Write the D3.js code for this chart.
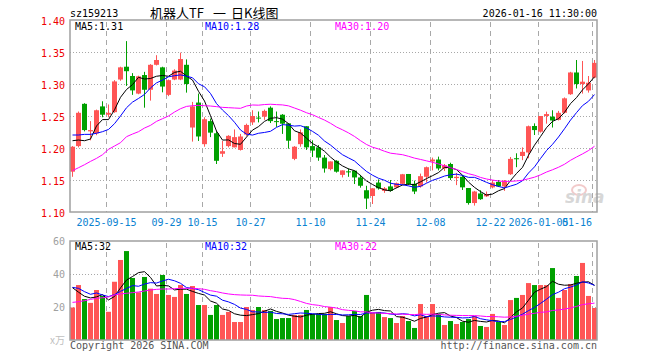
<!DOCTYPE html>
<html><head><meta charset="utf-8">
<script src="https://cdn.jsdelivr.net/npm/d3@7"></script>
<style>body{margin:0;background:#fff}svg{display:block}</style>
</head><body>
<svg id="c" width="660" height="360"></svg>
<script>
// ---------- DATA ----------
const dates = [
"2025-09-05","2025-09-08","2025-09-09","2025-09-10","2025-09-11","2025-09-12",
"2025-09-15","2025-09-16","2025-09-17","2025-09-18","2025-09-19",
"2025-09-22","2025-09-23","2025-09-24","2025-09-25","2025-09-26",
"2025-09-29","2025-09-30","2025-10-09","2025-10-10",
"2025-10-13","2025-10-14","2025-10-15","2025-10-16","2025-10-17",
"2025-10-20","2025-10-21","2025-10-22","2025-10-23","2025-10-24",
"2025-10-27","2025-10-28","2025-10-29","2025-10-30","2025-10-31",
"2025-11-03","2025-11-04","2025-11-05","2025-11-06","2025-11-07",
"2025-11-10","2025-11-11","2025-11-12","2025-11-13","2025-11-14",
"2025-11-17","2025-11-18","2025-11-19","2025-11-20","2025-11-21",
"2025-11-24","2025-11-25","2025-11-26","2025-11-27","2025-11-28",
"2025-12-01","2025-12-02","2025-12-03","2025-12-04","2025-12-05",
"2025-12-08","2025-12-09","2025-12-10","2025-12-11","2025-12-12",
"2025-12-15","2025-12-16","2025-12-17","2025-12-18","2025-12-19",
"2025-12-22","2025-12-23","2025-12-24","2025-12-25","2025-12-26",
"2025-12-29","2025-12-30","2025-12-31","2026-01-05","2026-01-06",
"2026-01-07","2026-01-08","2026-01-09","2026-01-12","2026-01-13",
"2026-01-14","2026-01-15","2026-01-16"];

const openP = [1.163,1.203,1.269,1.226,1.223,1.265,1.252,1.256,1.307,1.327,
1.3125,1.285,1.314,1.291,1.330,1.326,1.283,1.307,1.307,1.330,
1.232,1.271,1.206,1.242,1.223,1.191,1.203,1.201,1.197,1.221,
1.240,1.2475,1.249,1.263,1.242,1.252,1.2385,1.183,1.206,1.234,
1.203,1.201,1.185,1.167,1.180,1.158,1.1635,1.1646,1.154,1.134,
1.125,1.146,1.133,1.140,1.1385,1.144,1.1594,1.144,1.140,1.155,
1.179,1.182,1.168,1.175,1.153,1.155,1.1375,1.114,1.129,1.1245,
1.1385,1.147,1.140,1.159,1.184,1.1875,1.193,1.2344,1.2255,1.250,
1.249,1.244,1.255,1.284,1.318,1.300,1.290,1.310];
const highP = [1.203,1.257,1.270,1.242,1.260,1.273,1.268,1.306,1.327,1.367,
1.317,1.313,1.319,1.331,1.345,1.327,1.307,1.323,1.349,1.3385,
1.272,1.285,1.248,1.246,1.227,1.211,1.220,1.229,1.222,1.238,
1.259,1.257,1.260,1.265,1.257,1.253,1.2385,1.203,1.229,1.234,
1.212,1.2046,1.189,1.179,1.181,1.165,1.168,1.1646,1.158,1.141,
1.137,1.151,1.139,1.150,1.146,1.1595,1.1594,1.149,1.160,1.171,
1.185,1.1865,1.175,1.177,1.161,1.158,1.1375,1.133,1.134,1.132,
1.150,1.150,1.150,1.186,1.1917,1.201,1.235,1.2385,1.250,1.2568,
1.259,1.258,1.279,1.319,1.3375,1.336,1.3125,1.3375];
const lowP = [1.155,1.201,1.226,1.212,1.220,1.248,1.248,1.255,1.305,1.297,
1.283,1.284,1.263,1.274,1.329,1.287,1.281,1.306,1.306,1.2865,
1.210,1.211,1.202,1.217,1.175,1.186,1.201,1.201,1.196,1.219,
1.236,1.240,1.244,1.239,1.233,1.222,1.199,1.181,1.202,1.197,
1.186,1.180,1.1615,1.165,1.1615,1.154,1.155,1.1437,1.138,1.1047,
1.1125,1.135,1.130,1.1318,1.137,1.142,1.142,1.128,1.138,1.146,
1.165,1.165,1.164,1.150,1.142,1.1344,1.1115,1.110,1.119,1.1235,
1.137,1.139,1.133,1.158,1.170,1.181,1.184,1.2203,1.224,1.238,
1.232,1.243,1.254,1.283,1.293,1.285,1.2865,1.309];
const closeP = [1.202,1.255,1.228,1.228,1.259,1.252,1.255,1.304,1.326,1.320,
1.290,1.312,1.291,1.330,1.3375,1.296,1.306,1.321,1.339,1.300,
1.265,1.218,1.245,1.224,1.180,1.195,1.219,1.217,1.218,1.236,
1.250,1.246,1.258,1.242,1.241,1.238,1.2114,1.202,1.2245,1.201,
1.196,1.185,1.168,1.179,1.163,1.165,1.162,1.154,1.141,1.121,
1.137,1.137,1.137,1.133,1.145,1.159,1.1438,1.132,1.156,1.170,
1.182,1.168,1.173,1.153,1.155,1.1385,1.114,1.132,1.120,1.128,
1.146,1.140,1.149,1.183,1.183,1.194,1.234,1.228,1.250,1.253,
1.243,1.255,1.2776,1.318,1.300,1.3036,1.302,1.333];
const volume = [19.7,33.3,24.8,22.5,30.3,26.7,17.1,35.3,48.5,53.9,
37.6,28.9,38.2,31.1,27.9,39.4,27.3,26.1,33.3,27.9,
32.7,21.2,21.2,15.2,21.2,15.2,17.0,10.9,10.9,20.0,
18.2,20.0,18.2,17.6,12.7,13.3,13.3,15.2,15.2,18.2,
15.8,15.8,15.8,20.0,12.1,10.3,14.5,17.6,14.5,27.3,
16.4,17.0,13.9,13.3,10.3,14.5,11.5,7.3,21.8,14.5,
21.8,15.8,9.1,11.5,9.7,10.9,12.7,14.5,8.5,7.9,
15.8,10.9,9.1,24.2,25.5,27.3,34.5,33.3,33.3,33.3,
43.6,25.5,30.3,33.9,38.8,46.7,26.7,19.4];

// moving-average values for the first days (window not yet full)
const ma5Start  = [1.2114,1.2125,1.2114,1.214];
const ma10Start = [1.2203,1.2203,1.2213,1.2213,1.223,1.2255,1.229,1.238,1.250];
const ma30Start = [1.1646,1.1692,1.1739,1.1791,1.1838,1.1895,1.1979,1.2031,1.2083,1.2177,
1.2218,1.2255,1.2312,1.2354,1.2416,1.2458,1.250,1.2562,1.2614,1.265,
1.2661,1.2666,1.2661,1.2656,1.2646,1.2635,1.263,1.2625,1.262];
const vma5Start  = [31.7,29.0,26.5,25.5];
const vma10Start = [31.9,31.3,29.3,27.7,28.5,27.3,26.3,27.5,29.5];
const vma30Start = [22.8,23.2,23.8,24.6,25.3,25.6,26.1,27.3,27.9,28.3,
28.7,29.1,29.7,30.3,30.7,30.9,30.9,31.1,31.3,31.3,
31.3,31.1,30.7,29.9,29.3,28.5,27.9,27.5,27.3];

const priceTicks = [1.10,1.15,1.20,1.25,1.30,1.35,1.40];
const volTicks = [20,40,60];
const tickDates  = ["2025-09-15","2025-09-29","2025-10-15","2025-10-27","2025-11-10","2025-11-24","2025-12-08","2025-12-22","2026-01-05","2026-01-16"];
const tickLabels = ["2025-09-15","09-29","10-15","10-27","11-10","11-24","12-08","12-22","2026-01-05","01-16"];
const titleParts = ["机器人TF","一","日K线图"];
const priceMaLabels = ["MA5:1.31","MA10:1.28","MA30:1.20"];
const volMaLabels = ["MA5:32","MA10:32","MA30:22"];
const maColors = ["#000000","#0000ff","#ff00ff"];

// ---------- DRAW ----------
const svg = d3.select("#c");
const MONO = "'DejaVu Sans Mono', monospace";
const CJK = "'Noto Sans CJK SC', sans-serif";
const L=70, R=597, T=20, B=212, VT=241, VB=340;
const UP="#ff5555", DN="#00a000", GRID="#a8a8a8";
const n = dates.length;
const x = d3.scaleLinear().domain([0,n-1]).range([72.5,594.5]);
const y = d3.scaleLinear().domain([1.10,1.40]).range([B,T]);
const yv = d3.scaleLinear().domain([0,60]).range([VB,VT]);

function ma(arr, k, start){
  return arr.map((_,i)=> i<k-1 ? start[i] : d3.mean(arr.slice(i-k+1,i+1)));
}
const pMA = [ma(closeP,5,ma5Start), ma(closeP,10,ma10Start), ma(closeP,30,ma30Start)];
const vMA = [ma(volume,5,vma5Start), ma(volume,10,vma10Start), ma(volume,30,vma30Start)];

const defs = svg.append("defs");
defs.append("clipPath").attr("id","cp").append("rect").attr("x",L).attr("y",T).attr("width",R-L).attr("height",B-T);
defs.append("clipPath").attr("id","cv").append("rect").attr("x",L).attr("y",VT).attr("width",R-L).attr("height",VB-VT);

// header
svg.append("text").attr("x",L).attr("y",17).attr("font-family",MONO).attr("font-size",10).text("sz159213");
const titleX = [150,213,231];
titleParts.forEach((t,k)=>svg.append("text").attr("x",titleX[k]).attr("y",18)
  .attr("font-family",CJK).attr("font-size",13).text(t));
svg.append("text").attr("x",R).attr("y",17).attr("text-anchor","end").attr("font-family",MONO).attr("font-size",10).text("2026-01-16 11:30:00");

const tickIdx = tickDates.map(d=>dates.indexOf(d));

// grids
const g = svg.append("g");
g.selectAll(".hp").data(priceTicks.slice(1,-1)).join("line")
  .attr("x1",L).attr("x2",R).attr("y1",d=>Math.round(y(d))+0.5).attr("y2",d=>Math.round(y(d))+0.5)
  .attr("stroke",GRID).attr("stroke-dasharray","1,2");
g.selectAll(".hv").data(volTicks.slice(0,-1)).join("line")
  .attr("x1",L).attr("x2",R).attr("y1",d=>Math.round(yv(d))+0.5).attr("y2",d=>Math.round(yv(d))+0.5)
  .attr("stroke",GRID).attr("stroke-dasharray","1,2");
[[T,B],[VT,VB]].forEach(([a,b])=>{
  g.append("g").selectAll("line").data(tickIdx).join("line")
   .attr("x1",i=>x(i)-2).attr("x2",i=>x(i)-2).attr("y1",a+2).attr("y2",b)
   .attr("stroke",GRID).attr("stroke-dasharray","5,4");
});

// watermark
const wm = svg.append("g").attr("opacity",0.55);
wm.append("ellipse").attr("cx",579).attr("cy",190).attr("rx",7).attr("ry",5).attr("fill","none").attr("stroke","#e8a0a0").attr("stroke-width",2);
wm.append("text").attr("x",565).attr("y",203).attr("font-family","'DejaVu Sans', sans-serif").attr("font-size",17).attr("font-style","italic").attr("font-weight","bold").attr("fill","#b8b8b8").text("sina");

// candles
const isUp = i => closeP[i] >= openP[i];
const cg = svg.append("g").attr("clip-path","url(#cp)");
const idx = d3.range(n);
cg.selectAll(".w").data(idx).join("line")
  .attr("x1",i=>x(i)).attr("x2",i=>x(i)).attr("y1",i=>y(highP[i])).attr("y2",i=>y(lowP[i]))
  .attr("stroke",i=>isUp(i)?UP:DN);
cg.selectAll(".b").data(idx).join("rect")
  .attr("x",i=>x(i)-2.5).attr("width",5)
  .attr("y",i=>y(Math.max(openP[i],closeP[i])))
  .attr("height",i=>Math.max(1,Math.abs(y(openP[i])-y(closeP[i]))))
  .attr("fill",i=>isUp(i)?UP:DN);

// volume bars
const vg = svg.append("g").attr("clip-path","url(#cv)");
vg.selectAll("rect").data(idx).join("rect")
  .attr("x",i=>x(i)-2.5).attr("width",5)
  .attr("y",i=>yv(volume[i])).attr("height",i=>VB-yv(volume[i]))
  .attr("fill",i=>isUp(i)?UP:DN);

// MA lines
const lineP = d3.line().x((d,i)=>x(i)).y(d=>y(d));
const lineV = d3.line().x((d,i)=>x(i)).y(d=>yv(d));
pMA.forEach((s,k)=>cg.append("path").attr("d",lineP(s)).attr("fill","none").attr("stroke",maColors[k]).attr("stroke-width",1));
vMA.forEach((s,k)=>vg.append("path").attr("d",lineV(s)).attr("fill","none").attr("stroke",maColors[k]).attr("stroke-width",1));

// borders
svg.append("rect").attr("x",L).attr("y",T).attr("width",R-L).attr("height",B-T).attr("fill","none").attr("stroke","#a0a0a0").attr("stroke-width",1.5);
svg.append("rect").attr("x",L).attr("y",VT).attr("width",R-L).attr("height",VB-VT).attr("fill","none").attr("stroke","#a0a0a0").attr("stroke-width",1.5);

// MA labels
const maX = [75,205,335];
priceMaLabels.forEach((t,k)=>svg.append("text").attr("x",maX[k]).attr("y",29.5).attr("font-family",MONO).attr("font-size",10).attr("fill",maColors[k]).text(t));
volMaLabels.forEach((t,k)=>svg.append("text").attr("x",maX[k]).attr("y",250).attr("font-family",MONO).attr("font-size",10).attr("fill",maColors[k]).text(t));

// y axes
const ax = svg.append("g").attr("transform",`translate(${L},0)`)
  .call(d3.axisLeft(y).tickValues(priceTicks).tickFormat(d3.format(".2f")).tickSize(0).tickPadding(5));
ax.select(".domain").remove();
ax.selectAll("text").attr("font-family",MONO).attr("font-size",10).attr("fill","#ee0000").attr("dy","0.45em");
const avx = svg.append("g").attr("transform",`translate(${L},0)`)
  .call(d3.axisLeft(yv).tickValues(volTicks).tickFormat(d3.format("d")).tickSize(0).tickPadding(5));
avx.select(".domain").remove();
avx.selectAll("text").attr("font-family",MONO).attr("font-size",10).attr("fill","#a0a0a0").attr("dy","0.35em");
svg.append("text").attr("x",65).attr("y",344).attr("text-anchor","end").attr("font-family",CJK).attr("font-size",10).attr("fill","#c0c0c0").text("x万");

// date labels
svg.append("g").selectAll("text").data(tickIdx).join("text")
  .attr("x",(i)=>{const cx=x(i)-2; return (cx+15>R-4)? R-5 : cx;})
  .attr("text-anchor",(i)=>(x(i)-2+15>R-4)?"end":"middle")
  .attr("y",225.5).attr("font-family",MONO).attr("font-size",10).attr("fill","#0b82d1")
  .text((i,j)=>tickLabels[j]);

// footer
svg.append("text").attr("x",L).attr("y",349).attr("font-family",MONO).attr("font-size",10).attr("fill","#555").text("Copyright 2026 SINA.COM");
svg.append("text").attr("x",R).attr("y",349).attr("text-anchor","end").attr("font-family",MONO).attr("font-size",10).attr("fill","#555").text("http://finance.sina.com.cn");
</script>
</body></html>
